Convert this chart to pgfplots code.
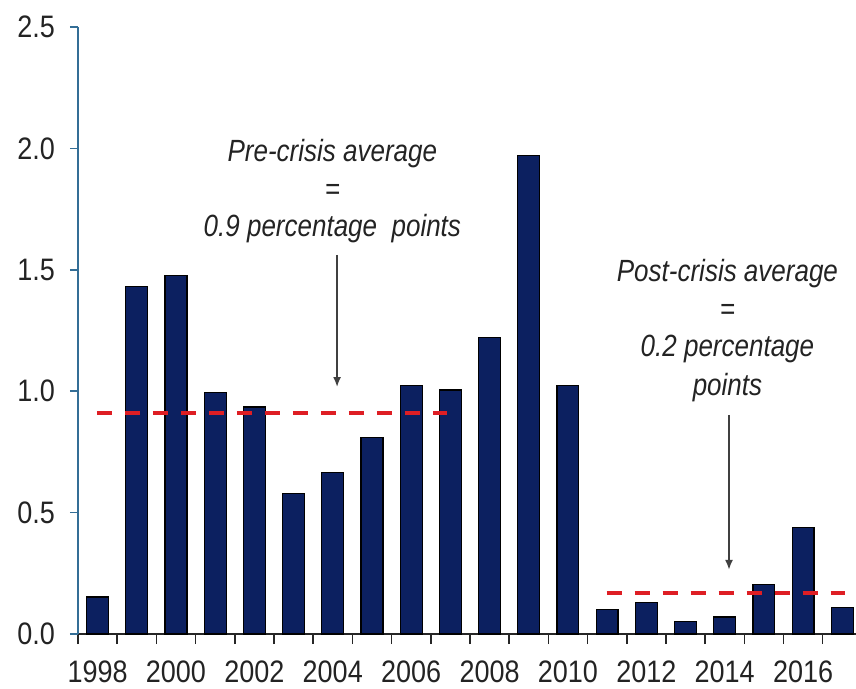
\documentclass[border=0pt]{standalone}
\usepackage{fontspec}
\setmainfont{Liberation Sans}
\usepackage{pgfplots}
\pgfplotsset{compat=1.18}
\usetikzlibrary{arrows.meta}
\definecolor{navy}{RGB}{12,32,96}
\definecolor{axisblue}{RGB}{52,110,150}
\definecolor{dred}{RGB}{222,30,36}
\definecolor{txt}{RGB}{35,35,35}
\begin{document}
\begin{tikzpicture}
\begin{axis}[
  scale only axis, width=389pt, height=303.5pt,
  xmin=1997.5, xmax=2017.35, ymin=0, ymax=2.5,
  clip=false,
  axis x line*=bottom, axis y line*=left,
  x axis line style={-, draw=black!85, line width=1pt},
  y axis line style={-, draw=axisblue, line width=0.8pt},
  /pgf/number format/assume math mode=true,
  /pgf/number format/1000 sep={},
  tick align=outside,
  major tick length=4pt,
  minor tick length=5pt,
  ytick={0,0.5,1,1.5,2,2.5},
  ytick style={draw=axisblue, line width=0.8pt},
  yticklabel style={xshift=-4pt, /pgf/number format/fixed, /pgf/number format/fixed zerofill, /pgf/number format/precision=1},
  xtick={1998,2000,2002,2004,2006,2008,2010,2012,2014,2016},
  xticklabel style={yshift=-4.5pt},
  major x tick style={draw=none},
  minor xtick={1997.5,1998.5,1999.5,2000.5,2001.5,2002.5,2003.5,2004.5,2005.5,2006.5,2007.5,2008.5,2009.5,2010.5,2011.5,2012.5,2013.5,2014.5,2015.5,2016.5},
  minor x tick style={draw=black!85, line width=0.8pt},
  ticklabel style={font=\fontsize{13.5}{16}\selectfont, text=txt, yscale=1.15},
]
\addplot[ybar, bar width=0.56, fill=navy, draw=black, line width=0.6pt] coordinates {
 (1998,0.152) (1999,1.43) (2000,1.475) (2001,0.995) (2002,0.935)
 (2003,0.58) (2004,0.665) (2005,0.81) (2006,1.025) (2007,1.005)
 (2008,1.22) (2009,1.97) (2010,1.025) (2011,0.10) (2012,0.13)
 (2013,0.05) (2014,0.07) (2015,0.205) (2016,0.44) (2017,0.11)};
\addplot[dred, line width=2.2pt, dash pattern=on 7.5pt off 6.5pt] coordinates {(1997.98,0.91) (2006.91,0.91)};
\addplot[dred, line width=2.2pt, dash pattern=on 7.5pt off 6.5pt] coordinates {(2010.99,0.168) (2017.07,0.168)};
\addplot[black!75, line width=0.9pt, -{Latex[length=5pt,width=4pt]}] coordinates {(2004.11,1.561) (2004.11,1.017)};
\addplot[black!75, line width=0.9pt, -{Latex[length=5pt,width=4pt]}] coordinates {(2014.11,0.902) (2014.11,0.264)};
\tikzset{ann/.style={font=\fontsize{13}{15}\selectfont\itshape, text=txt, yscale=1.18, anchor=base, inner sep=0pt}}
\node[ann] at (axis cs:2003.99,1.944) {Pre-crisis average};
\node[ann] at (axis cs:2003.99,1.791) {=};
\node[ann] at (axis cs:2003.99,1.639) {0.9 percentage\ \ points};
\node[ann] at (axis cs:2014.07,1.450) {Post-crisis average};
\node[ann] at (axis cs:2014.07,1.295) {=};
\node[ann] at (axis cs:2014.07,1.141) {0.2 percentage};
\node[ann] at (axis cs:2014.07,0.984) {points};
\coordinate (bl) at (axis cs:1995.51,-0.2265);
\coordinate (tr) at (axis cs:2017.35,2.6112);
\end{axis}
\pgfresetboundingbox
\path[use as bounding box] (bl) rectangle (tr);
\end{tikzpicture}
\end{document}
